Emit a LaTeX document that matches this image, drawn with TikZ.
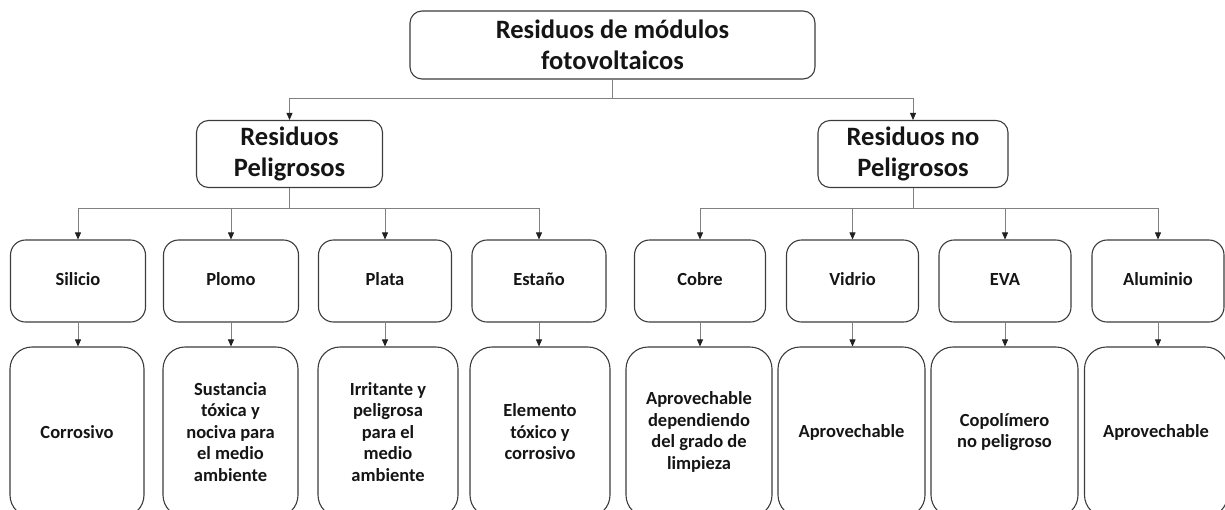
\documentclass[tikz,border=0pt]{standalone}
\usepackage{fontspec}
\setmainfont{Carlito}
\usetikzlibrary{arrows.meta}
\definecolor{boxc}{HTML}{3C3C3C}
\definecolor{linec}{HTML}{808080}
\definecolor{tipc}{HTML}{202020}
\definecolor{txtc}{HTML}{151515}
\begin{document}
\begin{tikzpicture}[x=1pt,y=-1pt,
  box/.style={draw=boxc, line width=1.1pt, align=center, inner sep=0pt, text=txtc, font=\bfseries},
  bigbox/.style={box, rounded corners=12pt, font=\fontsize{26.5}{31}\selectfont\bfseries},
  midbox/.style={box, rounded corners=15pt, minimum height=82pt, text height=13pt, text depth=4pt, font=\fontsize{18.5}{21.5}\selectfont\bfseries},
  lowbox/.style={box, rounded corners=22pt, minimum height=170pt, font=\fontsize{18.5}{21.5}\selectfont\bfseries},
  conn/.style={draw=linec, line width=0.8pt},
  arr/.style={conn, -{Triangle[length=7pt,width=6pt,fill=tipc,color=tipc]}}
]
\useasboundingbox (0,0) rectangle (1225,509);
\clip (0,0) rectangle (1225,509);
% top
\node[bigbox, minimum width=405pt, minimum height=68pt] (top) at (612.5,45) {Residuos de módulos\\fotovoltaicos};
% level 2
\node[bigbox, minimum width=186pt, minimum height=67pt] (pel) at (289.5,154) {Residuos\\Peligrosos};
\node[bigbox, minimum width=190pt, minimum height=67pt] (npel) at (913,154) {Residuos no\\Peligrosos};
% level 3
\node[midbox, minimum width=135pt] (sil) at (78,281) {Silicio};
\node[midbox, minimum width=135pt] (plo) at (231,281) {Plomo};
\node[midbox, minimum width=133pt] (pla) at (385,281) {Plata};
\node[midbox, minimum width=134pt] (est) at (539,281) {Estaño};
\node[midbox, minimum width=131pt] (cob) at (700,281) {Cobre};
\node[midbox, minimum width=132pt] (vid) at (852.5,281) {Vidrio};
\node[midbox, minimum width=132pt] (eva) at (1005,281) {EVA};
\node[midbox, minimum width=132pt] (alu) at (1158,281) {Aluminio};
% level 4
\node[lowbox, minimum width=134pt] (silb) at (77,432) {Corrosivo};
\node[lowbox, minimum width=135pt] (plob) at (230.5,432) {Sustancia\\tóxica y\\nociva para\\el medio\\ambiente};
\node[lowbox, minimum width=140pt] (plab) at (388,432) {Irritante y\\peligrosa\\para el\\medio\\ambiente};
\node[lowbox, minimum width=140pt] (estb) at (540,432) {Elemento\\tóxico y\\corrosivo};
\node[lowbox, minimum width=146pt] (cobb) at (699,432) {Aprovechable\\dependiendo\\del grado de\\limpieza};
\node[lowbox, minimum width=147pt] (vidb) at (851.5,432) {Aprovechable};
\node[lowbox, minimum width=147pt] (evab) at (1004.5,432) {Copolímero\\no peligroso};
\node[lowbox, minimum width=143pt] (alub) at (1156,432) {Aprovechable};
% connectors
\coordinate (ht) at (612.5,98);
\coordinate (hp) at (289.5,208);
\coordinate (hn) at (913,208);
\draw[conn] (top.south) -- (ht);
\draw[arr] (ht) -| (pel.north);
\draw[arr] (ht) -| (npel.north);
\draw[conn] (pel.south) -- (hp);
\draw[conn] (npel.south) -- (hn);
\foreach \n in {sil,plo,pla,est} \draw[arr] (hp) -| (\n.north);
\foreach \n in {cob,vid,eva,alu} \draw[arr] (hn) -| (\n.north);
\foreach \a/\b in {sil/silb,plo/plob,pla/plab,est/estb,cob/cobb,vid/vidb,eva/evab,alu/alub}
  \draw[arr] (\a.south) -- (\a.south |- \b.north);
\end{tikzpicture}
\end{document}
